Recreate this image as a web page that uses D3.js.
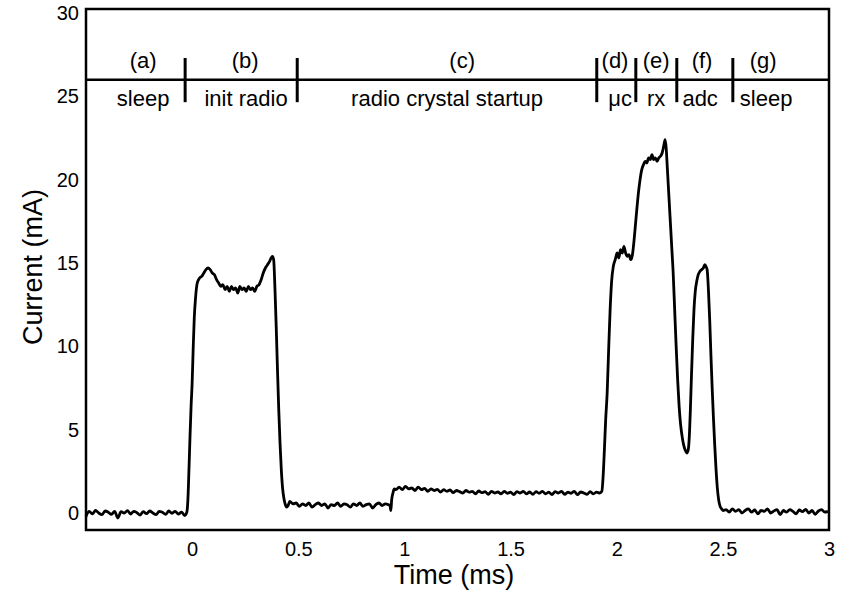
<!DOCTYPE html>
<html lang="en">

<head>
    <meta charset="UTF-8">
    <title>Current trace</title>
    <script src="https://d3js.org/d3.v7.min.js"></script>
    <style>
        body {
            margin: 0;
            background: #fff;
        }

        text {
            font-family: 'Liberation Sans', Arial, sans-serif;
            fill: #000;
        }

        .frame {
            fill: none;
            stroke: #000;
            stroke-width: 2.5;
        }

        .trace {
            fill: none;
            stroke: #000;
            stroke-width: 2.8;
            stroke-linejoin: round;
        }
    </style>
</head>

<body>
    <script>
        // measured current trace, [time (ms), current (mA)]
        const trace = [
            // (a) sleep
            [-0.500, -0.20], [-0.485, 0.10], [-0.470, -0.05], [-0.455, 0.15], [-0.440, 0.00], [-0.425, -0.10],
            [-0.410, 0.12], [-0.395, 0.05], [-0.380, -0.08], [-0.365, 0.10], [-0.350, -0.30], [-0.335, 0.08],
            [-0.320, 0.00], [-0.305, 0.14], [-0.290, -0.06], [-0.275, 0.10], [-0.260, 0.02], [-0.245, -0.12],
            [-0.230, 0.08], [-0.215, -0.04], [-0.200, 0.12], [-0.185, 0.00], [-0.170, -0.10], [-0.155, 0.10],
            [-0.140, 0.04], [-0.125, -0.08], [-0.110, 0.12], [-0.095, -0.02], [-0.080, 0.10], [-0.065, -0.06],
            [-0.050, 0.05], [-0.035, -0.15],
            // (b) init radio
            [-0.025, 0.05], [-0.020, 0.8], [-0.015, 2.6], [-0.010, 4.6], [-0.005, 6.4], [0.000, 7.8],
            [0.005, 9.9], [0.010, 11.7], [0.016, 12.9], [0.024, 13.8], [0.035, 14.1], [0.045, 14.2],
            [0.055, 14.4], [0.065, 14.6], [0.075, 14.7], [0.085, 14.6], [0.095, 14.4], [0.105, 14.3],
            [0.115, 14.0], [0.125, 13.8], [0.135, 13.6], [0.145, 13.7], [0.155, 13.4], [0.165, 13.6],
            [0.175, 13.3], [0.185, 13.6], [0.195, 13.4], [0.205, 13.5], [0.215, 13.2], [0.225, 13.6],
            [0.235, 13.4], [0.245, 13.5], [0.255, 13.3], [0.265, 13.6], [0.275, 13.4], [0.285, 13.5],
            [0.295, 13.3], [0.305, 13.6], [0.315, 13.7], [0.325, 14.0], [0.335, 14.4], [0.345, 14.7],
            [0.355, 14.9], [0.365, 15.1], [0.372, 15.3], [0.378, 15.4], [0.384, 15.2], [0.390, 13.5],
            [0.396, 11.2], [0.402, 8.6], [0.408, 6.2], [0.414, 4.2], [0.420, 2.6], [0.426, 1.5],
            [0.432, 0.9], [0.438, 0.55], [0.445, 0.35], [0.452, 0.45],
            // (c) radio crystal startup
            [0.460, 0.70], [0.475, 0.55], [0.490, 0.60], [0.505, 0.40], [0.520, 0.55], [0.535, 0.45],
            [0.550, 0.60], [0.565, 0.35], [0.580, 0.50], [0.595, 0.60], [0.610, 0.45], [0.625, 0.55],
            [0.640, 0.30], [0.655, 0.50], [0.670, 0.45], [0.685, 0.60], [0.700, 0.40], [0.715, 0.55],
            [0.730, 0.50], [0.745, 0.35], [0.760, 0.55], [0.775, 0.45], [0.790, 0.60], [0.805, 0.40],
            [0.820, 0.50], [0.835, 0.55], [0.850, 0.30], [0.865, 0.50], [0.880, 0.60], [0.895, 0.45],
            [0.910, 0.55], [0.925, 0.50], [0.932, 0.45], [0.936, 0.15], [0.940, 0.80], [0.946, 1.20],
            [0.952, 1.45], [0.960, 1.40],
            [0.975, 1.55], [0.990, 1.40], [1.005, 1.60], [1.020, 1.45], [1.035, 1.50], [1.050, 1.35],
            [1.065, 1.55], [1.080, 1.40], [1.095, 1.48], [1.110, 1.30], [1.125, 1.45], [1.140, 1.35],
            [1.155, 1.42], [1.170, 1.25], [1.185, 1.40], [1.200, 1.30], [1.215, 1.38], [1.230, 1.22],
            [1.245, 1.35], [1.260, 1.28], [1.275, 1.20], [1.290, 1.35], [1.305, 1.25], [1.320, 1.30],
            [1.335, 1.15], [1.350, 1.32], [1.365, 1.22], [1.380, 1.28], [1.395, 1.12], [1.410, 1.30],
            [1.425, 1.20], [1.440, 1.26], [1.455, 1.15], [1.470, 1.30], [1.485, 1.18], [1.500, 1.25],
            [1.515, 1.10], [1.530, 1.28], [1.545, 1.20], [1.560, 1.30], [1.575, 1.15], [1.590, 1.26],
            [1.605, 1.12], [1.620, 1.28], [1.635, 1.18], [1.650, 1.30], [1.665, 1.15], [1.680, 1.25],
            [1.695, 1.10], [1.710, 1.28], [1.725, 1.20], [1.740, 1.30], [1.755, 1.12], [1.770, 1.25],
            [1.785, 1.18], [1.800, 1.30], [1.815, 1.10], [1.830, 1.26], [1.845, 1.20], [1.860, 1.12],
            [1.875, 1.28], [1.890, 1.15], [1.905, 1.25], [1.920, 1.20],
            // (d) uc, (e) rx, (f) adc
            [1.930, 1.3], [1.936, 2.2], [1.942, 3.8], [1.948, 5.6], [1.955, 7.2], [1.962, 9.8],
            [1.969, 12.2], [1.976, 13.9], [1.984, 14.8], [1.993, 15.2], [2.002, 15.6], [2.010, 15.3],
            [2.018, 15.8], [2.026, 15.6], [2.034, 16.0], [2.042, 15.6], [2.050, 15.4], [2.058, 15.5],
            [2.066, 15.2], [2.074, 15.5], [2.082, 16.4], [2.089, 17.4], [2.096, 18.4], [2.103, 19.3],
            [2.110, 20.0], [2.118, 20.6], [2.126, 20.9], [2.134, 21.1], [2.142, 21.0], [2.150, 21.3],
            [2.158, 21.2], [2.166, 21.5], [2.174, 21.2], [2.182, 21.3], [2.190, 21.1], [2.198, 21.3],
            [2.206, 21.4], [2.214, 21.6], [2.221, 22.0], [2.228, 22.4], [2.233, 21.9], [2.238, 20.8],
            [2.245, 19.2], [2.252, 17.6], [2.259, 16.0], [2.266, 14.4], [2.273, 12.2], [2.280, 10.0],
            [2.287, 8.0], [2.294, 6.4], [2.301, 5.3], [2.308, 4.6], [2.315, 4.1], [2.322, 3.8],
            [2.330, 3.6], [2.337, 3.8], [2.342, 4.6], [2.347, 6.2], [2.352, 8.2], [2.358, 10.4],
            [2.364, 12.2], [2.370, 13.3], [2.377, 13.9], [2.384, 14.3], [2.392, 14.5], [2.400, 14.6],
            [2.408, 14.7], [2.415, 14.9], [2.420, 14.8], [2.426, 14.6], [2.432, 13.4], [2.438, 11.6],
            [2.444, 9.4], [2.450, 7.4], [2.456, 5.6], [2.462, 4.0], [2.468, 2.6], [2.474, 1.5],
            [2.480, 0.8], [2.487, 0.4], [2.494, 0.25], [2.502, 0.15],
            // (g) sleep
            [2.515, 0.20], [2.530, 0.05], [2.545, 0.25], [2.560, 0.10], [2.575, 0.20], [2.590, 0.00],
            [2.605, 0.15], [2.620, 0.25], [2.635, 0.05], [2.650, 0.18], [2.665, -0.05], [2.680, 0.15],
            [2.695, 0.10], [2.710, 0.25], [2.725, 0.00], [2.740, 0.12], [2.755, 0.20], [2.770, -0.10],
            [2.785, 0.15], [2.800, 0.05], [2.815, 0.20], [2.830, 0.10], [2.845, -0.05], [2.860, 0.18],
            [2.875, 0.08], [2.890, 0.22], [2.905, 0.00], [2.920, 0.15], [2.935, -0.08], [2.950, 0.12],
            [2.965, 0.20], [2.980, 0.05], [2.995, 0.10]
        ];

        // phase annotations along the top band
        const phaseTags = ["(a)", "(b)", "(c)", "(d)", "(e)", "(f)", "(g)"];
        const phaseNames = ["sleep", "init radio", "radio crystal startup", "\u03bcc", "rx", "adc", "sleep"];
        const tagTimes = [-0.231, 0.25, 1.272, 1.992, 2.186, 2.402, 2.69];
        const nameTimes = [-0.231, 0.254, 1.201, 2.016, 2.186, 2.393, 2.704];
        const dividerTimes = [-0.033, 0.495, 1.906, 2.09, 2.283, 2.547];
        const bandLevel = 26;
        const dividerSpan = [24.65, 27.3];

        const xTicks = [0, 0.5, 1, 1.5, 2, 2.5, 3];
        const yTicks = [0, 5, 10, 15, 20, 25, 30];

        var width = 844,
            height = 590;
        var margin = { top: 9, right: 15, bottom: 60, left: 86 };

        var svg = d3.select('body').append('svg')
            .attr('width', width)
            .attr('height', height);

        var x = d3.scaleLinear()
            .domain([-0.5, 3.0])
            .range([margin.left, width - margin.right]);

        var y = d3.scaleLinear()
            .domain([-1.02, 30.24])
            .range([height - margin.bottom, margin.top]);

        // axes: labels only, no tick marks
        var xAxis = svg.append('g')
            .attr('transform', 'translate(0,' + (height - margin.bottom) + ')')
            .call(d3.axisBottom(x).tickValues(xTicks).tickSize(0).tickPadding(12)
                .tickFormat(d3.format('')));
        xAxis.select('.domain').remove();
        xAxis.selectAll('text').style('font-size', '20px');

        var yAxis = svg.append('g')
            .attr('transform', 'translate(' + margin.left + ',0)')
            .call(d3.axisLeft(y).tickValues(yTicks).tickSize(0).tickPadding(7));
        yAxis.select('.domain').remove();
        yAxis.selectAll('text').style('font-size', '20px');

        // current trace
        var line = d3.line()
            .x(d => x(d[0]))
            .y(d => y(d[1]))
            .curve(d3.curveMonotoneX);

        svg.append('path')
            .datum(trace)
            .attr('class', 'trace')
            .attr('d', line);

        // phase band
        svg.append('line')
            .attr('x1', x(-0.5)).attr('x2', x(3.0))
            .attr('y1', y(bandLevel)).attr('y2', y(bandLevel))
            .attr('stroke', '#000')
            .attr('stroke-width', 2.5);

        svg.selectAll('.divider')
            .data(dividerTimes)
            .join('line')
            .attr('class', 'divider')
            .attr('x1', d => x(d)).attr('x2', d => x(d))
            .attr('y1', y(dividerSpan[0])).attr('y2', y(dividerSpan[1]))
            .attr('stroke', '#000')
            .attr('stroke-width', 3);

        svg.selectAll('.tag')
            .data(phaseTags)
            .join('text')
            .attr('class', 'tag')
            .attr('x', (d, i) => x(tagTimes[i]))
            .attr('y', y(bandLevel) - 12)
            .attr('text-anchor', 'middle')
            .style('font-size', '22px')
            .text(d => d);

        svg.selectAll('.name')
            .data(phaseNames)
            .join('text')
            .attr('class', 'name')
            .attr('x', (d, i) => x(nameTimes[i]))
            .attr('y', y(bandLevel) + 26)
            .attr('text-anchor', 'middle')
            .style('font-size', '22px')
            .text(d => d);

        // frame
        svg.append('rect')
            .attr('class', 'frame')
            .attr('x', margin.left)
            .attr('y', margin.top)
            .attr('width', width - margin.left - margin.right)
            .attr('height', height - margin.top - margin.bottom);

        // axis titles
        svg.append('text')
            .attr('x', 454)
            .attr('y', 584)
            .attr('text-anchor', 'middle')
            .style('font-size', '27px')
            .text('Time (ms)');

        svg.append('text')
            .attr('transform', 'translate(42,267) rotate(-90)')
            .attr('text-anchor', 'middle')
            .style('font-size', '27px')
            .text('Current (mA)');
    </script>
</body>

</html>
